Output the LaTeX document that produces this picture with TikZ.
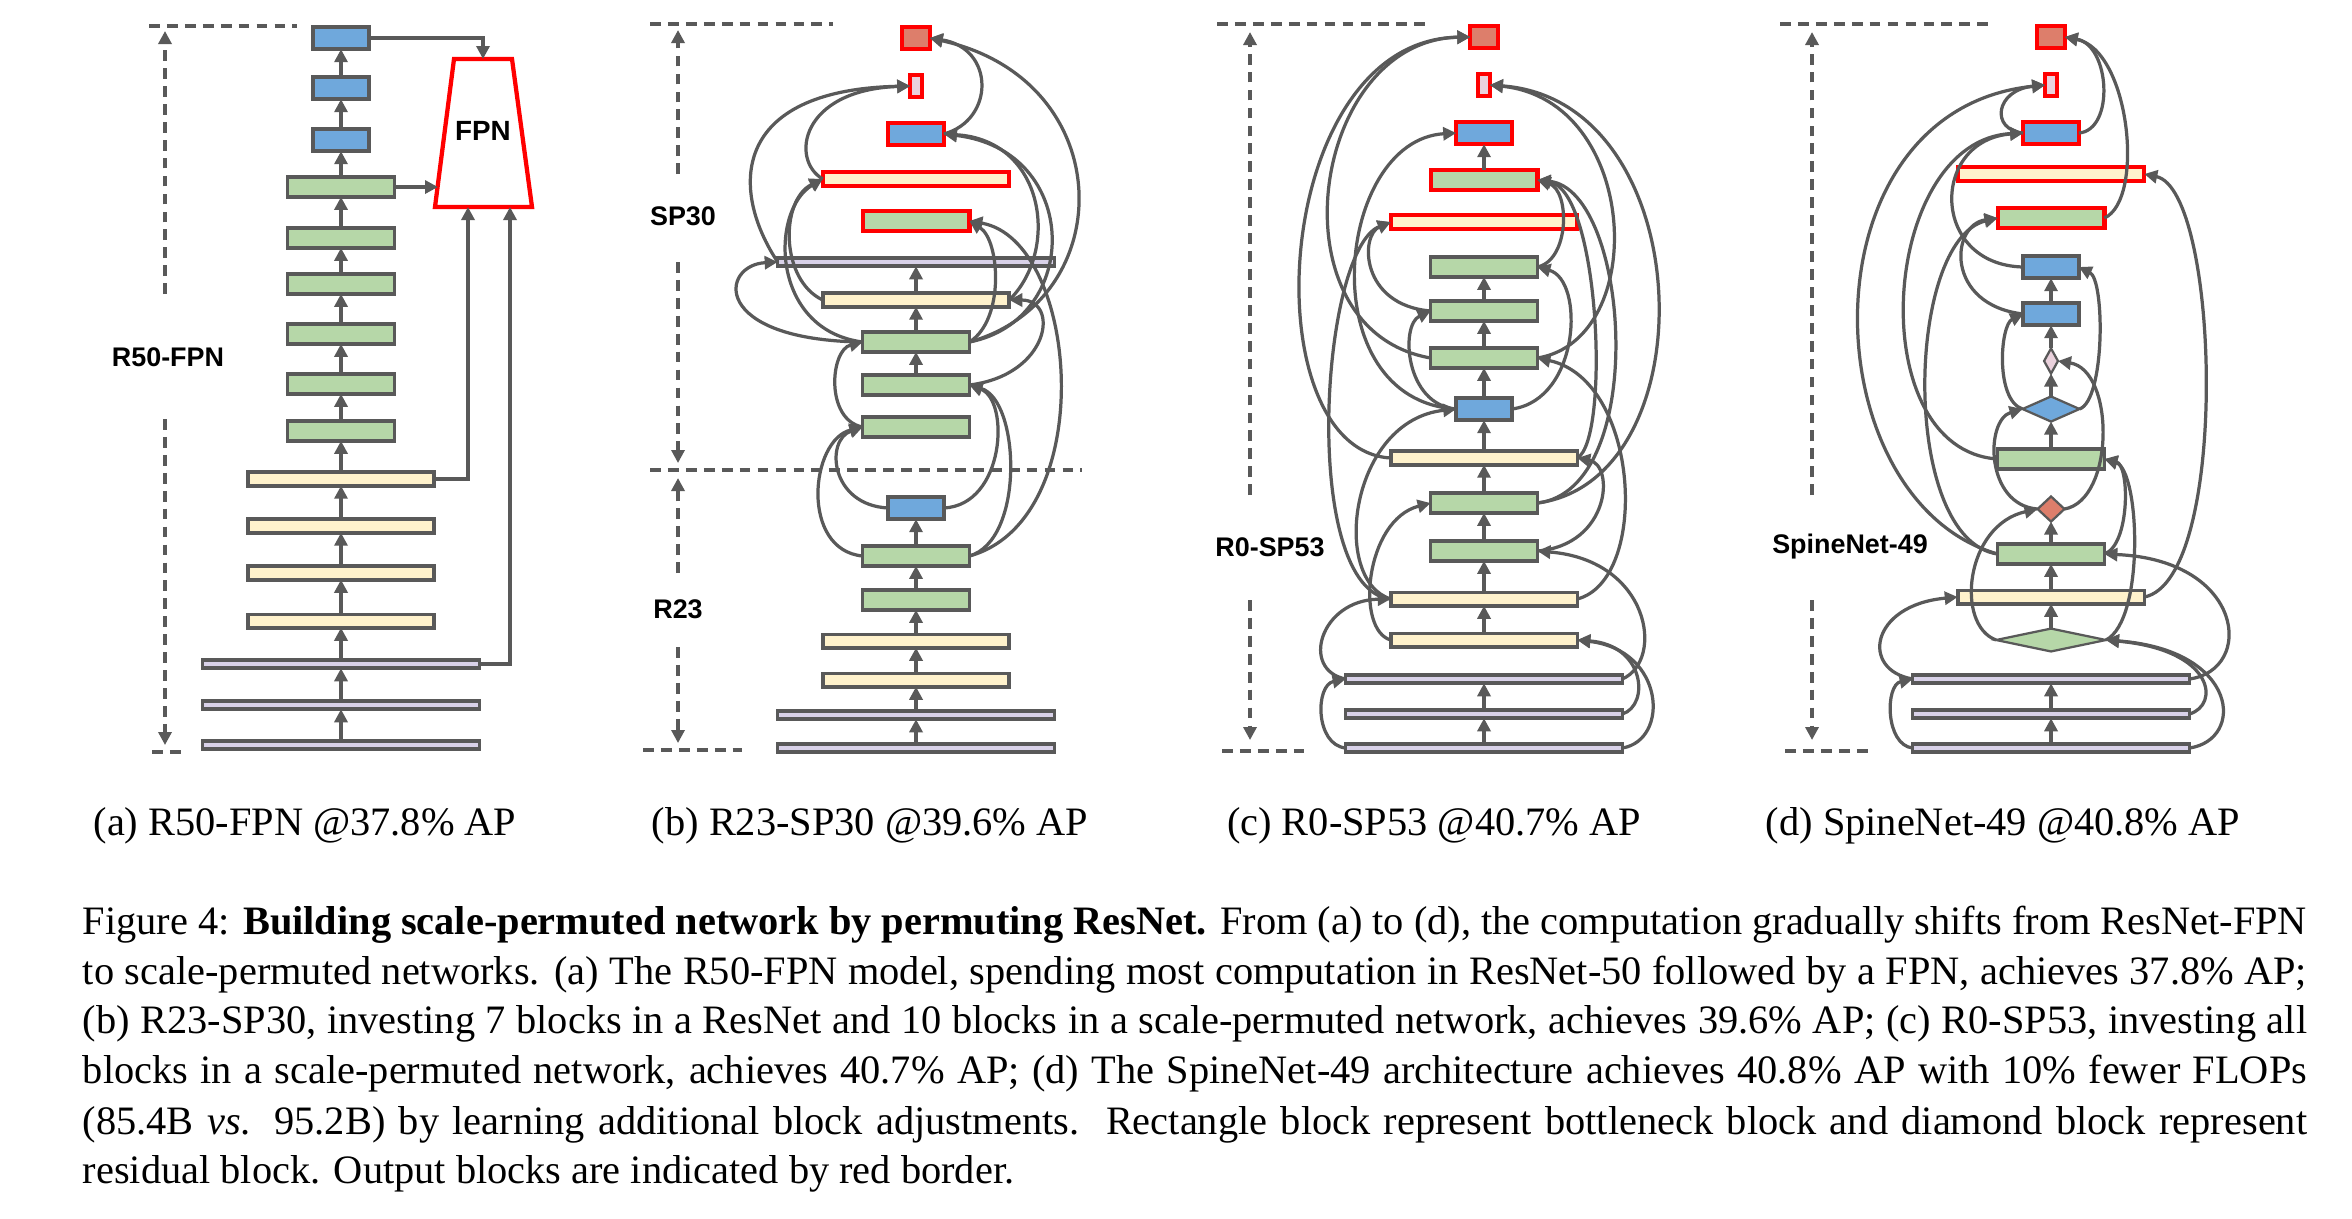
\documentclass[tikz,border=0pt]{standalone}
\usepackage{fontspec}
\setmainfont{Liberation Serif}
\newfontfamily\labfont{Liberation Sans}
\usetikzlibrary{arrows.meta,shapes.geometric}
\definecolor{bd}{HTML}{595959}
\definecolor{cblue}{HTML}{6FA8DC}
\definecolor{cgreen}{HTML}{B6D7A8}
\definecolor{cyellow}{HTML}{FFF2CC}
\definecolor{clav}{HTML}{D9D2E9}
\definecolor{cred}{HTML}{DD7E6B}
\definecolor{cpink}{HTML}{EAD1DC}
\definecolor{outred}{HTML}{FF0000}
\begin{document}
\begin{tikzpicture}[x=0.223pt,y=-0.223pt,
 blk/.style={draw=bd,line width=0.8pt,inner sep=0pt,outer sep=0pt},
 bbl/.style={blk,fill=cblue,minimum width=12.4pt,minimum height=5.0pt},
 bgr/.style={blk,fill=cgreen,minimum width=23.8pt,minimum height=4.4pt},
 bye/.style={blk,fill=cyellow,minimum width=41.6pt,minimum height=3.0pt},
 bla/.style={blk,fill=clav,minimum width=61.7pt,minimum height=1.9pt},
 bre/.style={blk,fill=cred,minimum width=6.1pt,minimum height=5.0pt},
 bpk/.style={blk,fill=cpink,minimum width=2.6pt,minimum height=5.0pt},
 outb/.style={draw=outred,line width=0.95pt},
 dia/.style={draw=bd,line width=0.5pt,shape=diamond,inner sep=0pt,outer sep=0pt},
 conn/.style={draw=bd,line width=0.72pt,-{Triangle[length=2.9pt,width=2.9pt]}},
 dimline/.style={draw=bd,line width=0.8pt,dash pattern=on 2.4pt off 1.6pt},
 dimarrow/.style={dimline,-{Triangle[length=2.9pt,width=2.9pt]}},
 lbl/.style={font=\labfont\bfseries\fontsize{6}{7}\selectfont,inner sep=0pt},
 subcap/.style={font=\fontsize{9}{11}\selectfont,inner sep=0pt,anchor=base},
 capline/.style={font=\fontsize{9}{11}\selectfont,inner sep=0pt,anchor=base west},
 ]
\fill[white] (0,0) rectangle (2352,1218);
\useasboundingbox (0,0) rectangle (2352,1218);

% ================= Panel (a) =================
\node[bbl] (a1) at (341,38) {};
\node[bbl] (a2) at (341,88) {};
\node[bbl] (a3) at (341,140) {};
\node[bgr] (a4) at (341,187) {};
\node[bgr] (a5) at (341,238) {};
\node[bgr] (a6) at (341,284) {};
\node[bgr] (a7) at (341,334) {};
\node[bgr] (a8) at (341,384) {};
\node[bgr] (a9) at (341,431) {};
\node[bye] (a10) at (341,479) {};
\node[bye] (a11) at (341,526) {};
\node[bye] (a12) at (341,573) {};
\node[bye] (a13) at (341,621) {};
\node[bla] (a14) at (341,664) {};
\node[bla] (a15) at (341,705) {};
\node[bla] (a16) at (341,745) {};
\foreach \l/\u in {a2/a1,a3/a2,a4/a3,a5/a4,a6/a5,a7/a6,a8/a7,a9/a8,a10/a9,a11/a10,a12/a11,a13/a12,a14/a13,a15/a14,a16/a15}
  \draw[conn] (\l.north) -- (\u.south);
\draw[draw=outred,line width=0.95pt,fill=white] (454,59) -- (512,59) -- (532,207) -- (435,207) -- cycle;
\node[font=\labfont\bfseries\fontsize{6.2}{7}\selectfont,inner sep=0pt] (fpn) at (483,131) {FPN};
\coordinate (fpnT) at (483,59);
\coordinate (fpnL) at (438,187);
\coordinate (fpnB1) at (468,207);
\coordinate (fpnB2) at (510,207);
\draw[conn] (a1.east) -| (fpnT);
\draw[conn] (a4.east) -- (fpnL);
\draw[conn] (a10.east) -| (fpnB1);
\draw[conn] (a14.east) -| (fpnB2);
\draw[dimline] (149,26) -- (297,26);
\draw[dimarrow] (165,294) -- (165,31);
\node[lbl] (la) at (168,357) {R50-FPN};
\draw[dimarrow] (165,419) -- (165,745);
\draw[dimline] (152,752) -- (181,752);

% ================= Panel (b) =================
\node[bre,outb] (b1) at (916,38) {};
\node[bpk,outb] (b2) at (916,86) {};
\node[bbl,outb] (b3) at (916,134) {};
\node[bye,outb] (b4) at (916,179) {};
\node[bgr,outb] (b5) at (916,221) {};
\node[bla] (b6) at (916,262) {};
\node[bye] (b7) at (916,300) {};
\node[bgr] (b8) at (916,342) {};
\node[bgr] (b9) at (916,385) {};
\node[bgr] (b10) at (916,427) {};
\node[bbl] (b11) at (916,508) {};
\node[bgr] (b12) at (916,556) {};
\node[bgr] (b13) at (916,600) {};
\node[bye] (b14) at (916,641) {};
\node[bye] (b15) at (916,680) {};
\node[bla] (b16) at (916,715) {};
\node[bla] (b17) at (916,748) {};
\foreach \l/\u in {b7/b6,b8/b7,b9/b8,b12/b11,b13/b12,b14/b13,b15/b14,b16/b15,b17/b16}
  \draw[conn] (\l.north) -- (\u.south);
\draw[conn] (b3.east) .. controls (995,120) and (995,48) .. (b1.east);
\draw[conn] (b8.east) .. controls (1120,300) and (1120,80) .. (b1.east);
\draw[conn] (b6.west) .. controls (730,190) and (730,90) .. (b2.west);
\draw[conn] (b4.west) .. controls (790,160) and (800,90) .. (b2.west);
\draw[conn] (b7.east) .. controls (1060,250) and (1045,140) .. (b3.east);
\draw[conn] (b8.east) .. controls (1082,320) and (1082,150) .. (b3.east);
\draw[conn] (b7.west) .. controls (780,280) and (780,200) .. (b4.west);
\draw[conn] (b8.west) .. controls (770,330) and (770,210) .. (b4.west);
\draw[conn] (b8.east) .. controls (1005,320) and (1000,240) .. (b5.east);
\draw[conn] (b12.east) .. controls (1100,520) and (1080,240) .. (b5.east);
\draw[conn] (b8.west) .. controls (710,340) and (720,265) .. (b6.west);
\draw[conn] (b9.east) .. controls (1050,375) and (1060,300) .. (b7.east);
\draw[conn] (b10.west) .. controls (825,420) and (830,350) .. (b8.west);
\draw[conn] (b11.east) .. controls (1005,505) and (1010,400) .. (b9.east);
\draw[conn] (b12.east) .. controls (1025,540) and (1020,400) .. (b9.east);
\draw[conn] (b11.west) .. controls (830,505) and (825,440) .. (b10.west);
\draw[conn] (b12.west) .. controls (800,550) and (810,440) .. (b10.west);
\draw[dimline] (650,24) -- (833,24);
\draw[dimarrow] (678,174) -- (678,30);
\node[lbl] (lb1) at (683,216) {SP30};
\draw[dimarrow] (678,262) -- (678,463);
\draw[dimline] (650,470) -- (1082,470);
\draw[dimarrow] (678,573) -- (678,478);
\node[lbl] (lb2) at (678,609) {R23};
\draw[dimarrow] (678,647) -- (678,743);
\draw[dimline] (643,750) -- (742,750);

% ================= Panel (c) =================
\node[bre,outb] (c1) at (1484,37) {};
\node[bpk,outb] (c2) at (1484,85) {};
\node[bbl,outb] (c3) at (1484,133) {};
\node[bgr,outb] (c4) at (1484,180) {};
\node[bye,outb] (c5) at (1484,222) {};
\node[bgr] (c6) at (1484,267) {};
\node[bgr] (c7) at (1484,311) {};
\node[bgr] (c8) at (1484,358) {};
\node[bbl] (c9) at (1484,409) {};
\node[bye] (c10) at (1484,458) {};
\node[bgr] (c11) at (1484,503) {};
\node[bgr] (c12) at (1484,551) {};
\node[bye] (c13) at (1484,599) {};
\node[bye] (c14) at (1484,640) {};
\node[bla] (c15) at (1484,679) {};
\node[bla] (c16) at (1484,714) {};
\node[bla] (c17) at (1484,748) {};
\foreach \l/\u in {c4/c3,c7/c6,c8/c7,c9/c8,c10/c9,c11/c10,c12/c11,c13/c12,c14/c13,c16/c15,c17/c16}
  \draw[conn] (\l.north) -- (\u.south);
\draw[conn] (c8.west) .. controls (1270,330) and (1310,40) .. (c1.west);
\draw[conn] (c10.west) .. controls (1250,450) and (1270,40) .. (c1.west);
\draw[conn] (c8.east) .. controls (1650,340) and (1640,100) .. (c2.east);
\draw[conn] (c11.east) .. controls (1710,480) and (1700,100) .. (c2.east);
\draw[conn] (c9.west) .. controls (1310,400) and (1335,140) .. (c3.west);
\draw[conn] (c6.east) .. controls (1570,260) and (1570,190) .. (c4.east);
\draw[conn] (c10.east) .. controls (1610,440) and (1600,190) .. (c4.east);
\draw[conn] (c11.east) .. controls (1650,490) and (1630,190) .. (c4.east);
\draw[conn] (c7.west) .. controls (1360,305) and (1360,235) .. (c5.west);
\draw[conn] (c13.west) .. controls (1300,590) and (1320,250) .. (c5.west);
\draw[conn] (c9.east) .. controls (1580,400) and (1585,280) .. (c6.east);
\draw[conn] (c9.west) .. controls (1405,405) and (1400,325) .. (c7.west);
\draw[conn] (c13.east) .. controls (1650,580) and (1640,380) .. (c8.east);
\draw[conn] (c13.west) .. controls (1330,580) and (1350,420) .. (c9.west);
\draw[conn] (c12.east) .. controls (1610,545) and (1615,465) .. (c10.east);
\draw[conn] (c14.west) .. controls (1355,630) and (1365,520) .. (c11.west);
\draw[conn] (c15.east) .. controls (1665,660) and (1650,560) .. (c12.east);
\draw[conn] (c15.west) .. controls (1300,670) and (1320,600) .. (c13.west);
\draw[conn] (c16.east) .. controls (1650,705) and (1645,645) .. (c14.east);
\draw[conn] (c17.east) .. controls (1670,740) and (1665,650) .. (c14.east);
\draw[conn] (c17.west) .. controls (1315,745) and (1315,685) .. (c15.west);
\draw[dimline] (1217,24) -- (1428,24);
\draw[dimarrow] (1250,495) -- (1250,32);
\node[lbl] (lc) at (1270,547) {R0-SP53};
\draw[dimarrow] (1250,600) -- (1250,740);
\draw[dimline] (1222,751) -- (1304,751);

% ================= Panel (d) =================
\node[bre,outb] (d1) at (2051,37) {};
\node[bpk,outb] (d2) at (2051,85) {};
\node[bbl,outb] (d3) at (2051,133) {};
\node[bye,outb] (d4) at (2051,174) {};
\node[bgr,outb] (d5) at (2051,218) {};
\node[bbl] (d6) at (2051,267) {};
\node[bbl] (d7) at (2051,314) {};
\node[dia,fill=cpink,minimum width=3.1pt,minimum height=5.6pt] (d8) at (2051,361) {};
\node[dia,fill=cblue,minimum width=12.7pt,minimum height=5.6pt] (d9) at (2051,409) {};
\node[bgr] (d10) at (2051,459) {};
\node[dia,fill=cred,minimum width=6.0pt,minimum height=5.6pt] (d11) at (2051,509) {};
\node[bgr] (d12) at (2051,554) {};
\node[bye] (d13) at (2051,597) {};
\node[dia,fill=cgreen,minimum width=24.5pt,minimum height=5.1pt] (d14) at (2051,640) {};
\node[bla] (d15) at (2051,679) {};
\node[bla] (d16) at (2051,714) {};
\node[bla] (d17) at (2051,748) {};
\foreach \l/\u in {d7/d6,d8/d7,d9/d8,d10/d9,d12/d11,d13/d12,d14/d13,d16/d15,d17/d16}
  \draw[conn] (\l.north) -- (\u.south);
\draw[conn] (d3.east) .. controls (2115,130) and (2110,45) .. (d1.east);
\draw[conn] (d5.east) .. controls (2145,200) and (2130,50) .. (d1.east);
\draw[conn] (d3.west) .. controls (1990,130) and (1995,90) .. (d2.west);
\draw[conn] (d12.west) .. controls (1810,500) and (1800,110) .. (d2.west);
\draw[conn] (d6.west) .. controls (1930,265) and (1930,140) .. (d3.west);
\draw[conn] (d10.west) .. controls (1860,450) and (1880,140) .. (d3.west);
\draw[conn] (d13.east) .. controls (2230,580) and (2220,190) .. (d4.east);
\draw[conn] (d7.west) .. controls (1945,305) and (1950,225) .. (d5.west);
\draw[conn] (d12.west) .. controls (1900,540) and (1905,240) .. (d5.west);
\draw[conn] (d9.east) .. controls (2105,400) and (2105,280) .. (d6.east);
\draw[conn] (d9.west) .. controls (1995,400) and (2000,325) .. (d7.west);
\draw[conn] (d11.east) .. controls (2115,500) and (2115,370) .. (d8.east);
\draw[conn] (d11.west) .. controls (1985,505) and (1985,420) .. (d9.west);
\draw[conn] (d12.east) .. controls (2130,545) and (2130,465) .. (d10.east);
\draw[conn] (d14.east) .. controls (2145,620) and (2140,470) .. (d10.east);
\draw[conn] (d14.west) .. controls (1955,625) and (1965,525) .. (d11.west);
\draw[conn] (d15.east) .. controls (2255,670) and (2245,560) .. (d12.east);
\draw[conn] (d15.west) .. controls (1860,670) and (1870,605) .. (d13.west);
\draw[conn] (d16.east) .. controls (2220,705) and (2215,650) .. (d14.east);
\draw[conn] (d17.east) .. controls (2245,740) and (2240,650) .. (d14.east);
\draw[conn] (d17.west) .. controls (1885,745) and (1885,685) .. (d15.west);
\draw[dimline] (1780,24) -- (1995,24);
\draw[dimarrow] (1812,495) -- (1812,32);
\node[lbl] (ld) at (1850,547) {SpineNet-49};
\draw[dimarrow] (1812,600) -- (1812,740);
\draw[dimline] (1785,751) -- (1870,751);

% ================= Captions =================
\node[subcap] (sa) at (305,835) {(a) R50-FPN @37.8\% AP};
\node[subcap] (sb) at (870,835) {(b) R23-SP30 @39.6\% AP};
\node[subcap] (sc) at (1434,835) {(c) R0-SP53 @40.7\% AP};
\node[subcap] (sd) at (2003,835) {(d) SpineNet-49 @40.8\% AP};

\node[capline] (l1) at (82,934) {\makebox[496pt][s]{Figure 4: \textbf{Building scale-permuted network by permuting ResNet.} From (a) to (d), the computation gradually shifts from ResNet-FPN}};
\node[capline] (l2) at (82,984) {\makebox[496pt][s]{to scale-permuted networks. (a) The R50-FPN model, spending most computation in ResNet-50 followed by a FPN, achieves 37.8\% AP;}};
\node[capline] (l3) at (82,1033) {\makebox[496pt][s]{(b) R23-SP30, investing 7 blocks in a ResNet and 10 blocks in a scale-permuted network, achieves 39.6\% AP; (c) R0-SP53, investing all}};
\node[capline] (l4) at (82,1083) {\makebox[496pt][s]{blocks in a scale-permuted network, achieves 40.7\% AP; (d) The SpineNet-49 architecture achieves 40.8\% AP with 10\% fewer FLOPs}};
\node[capline] (l5) at (82,1134) {\makebox[496pt][s]{(85.4B \textit{vs}. 95.2B) by learning additional block adjustments.\ \ Rectangle block represent bottleneck block and diamond block represent}};
\node[capline] (l6) at (82,1183) {residual block. Output blocks are indicated by red border.};
\end{tikzpicture}
\end{document}
